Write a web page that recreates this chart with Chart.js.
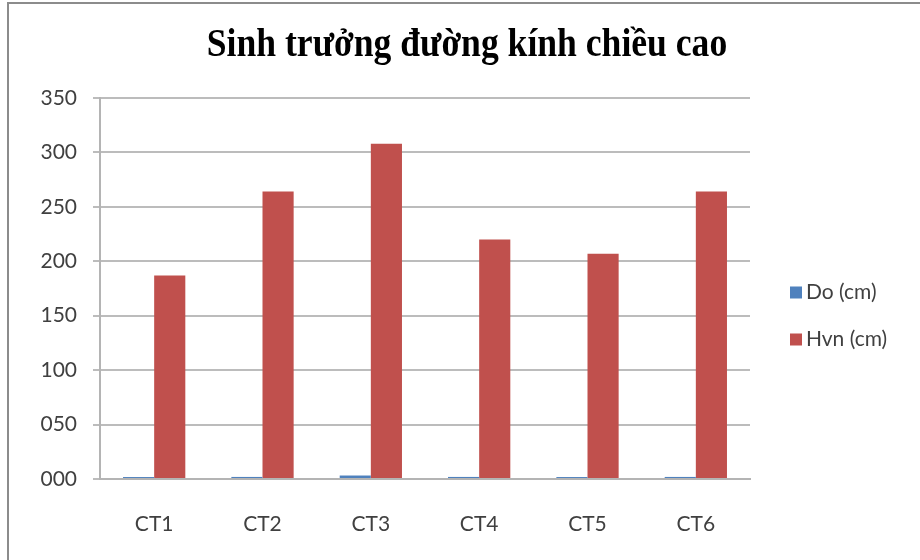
<!DOCTYPE html>
<html>
<head>
<meta charset="utf-8">
<script src="https://cdn.jsdelivr.net/npm/chart.js@4/dist/chart.umd.min.js"></script>
<style>
	html, body { margin:0; padding:0; background:#fff; }
	#wrap { width:920px; height:560px; position:relative; }
</style>
</head>
<body>
<div id="wrap"><canvas id="myChart" width="920" height="560"></canvas></div>
<script>
// 데이터
var categories = ['CT1', 'CT2', 'CT3', 'CT4', 'CT5', 'CT6'];
var doValues = [1.8, 1.9, 3.2, 1.9, 1.8, 1.9];
var hvnValues = [187, 264, 308, 220, 207, 264];
var yTickLabels = ['000', '050', '100', '150', '200', '250', '300', '350'];
var seriesNames = ['Do (cm)', 'Hvn (cm)'];
var chartTitle = 'Sinh trưởng đường kính chiều cao';

var tickFont = { family: 'Lato, "Open Sans", sans-serif', size: 21 };

// 바깥 테두리
var framePlugin = {
	id: 'frame',
	beforeDraw: function(chart){
		var ctx = chart.ctx;
		ctx.save();
		ctx.fillStyle = '#fff';
		ctx.fillRect(0, 0, chart.width, chart.height);
		ctx.strokeStyle = '#8c8c8c';
		ctx.lineWidth = 2;
		ctx.strokeRect(8, 3, chart.width + 20, chart.height + 20);
		ctx.restore();
	}
};

// 제목 (전체 폭 기준 가운데, 좁고 높은 글꼴 느낌)
var titlePlugin = {
	id: 'topTitle',
	afterDraw: function(chart){
		var ctx = chart.ctx;
		ctx.save();
		ctx.translate(467, 46);
		ctx.scale(0.89, 1);
		ctx.font = 'bold 40px "Liberation Serif", "DejaVu Serif", serif';
		ctx.fillStyle = '#000';
		ctx.textAlign = 'center';
		ctx.textBaseline = 'middle';
		ctx.fillText(chartTitle, 0, 0);
		ctx.restore();
	}
};

// 범례 (오른쪽)
var legendPlugin = {
	id: 'sideLegend',
	afterDraw: function(chart){
		var ctx = chart.ctx;
		var area = chart.chartArea;
		var x = area.right + 40;
		var y0 = (area.top + area.bottom) / 2 + 4;
		ctx.save();
		ctx.font = '21px ' + tickFont.family;
		ctx.textBaseline = 'middle';
		chart.data.datasets.forEach(function(ds, i){
			var y = y0 + i * 47;
			ctx.fillStyle = ds.backgroundColor;
			ctx.fillRect(x, y - 6, 12, 12);
			ctx.fillStyle = '#404040';
			ctx.fillText(ds.label, x + 16, y);
		});
		ctx.restore();
	}
};

var ctx = document.getElementById('myChart').getContext('2d');
var myChart = new Chart(ctx, {
	type: 'bar',
	data: {
		labels: categories,
		datasets: [{
			label: seriesNames[0],
			data: doValues,
			backgroundColor: '#4F81BD'
		}, {
			label: seriesNames[1],
			data: hvnValues,
			backgroundColor: '#C0504D'
		}]
	},
	options: {
		responsive: false,
		animation: false,
		devicePixelRatio: 1,
		layout: { padding: { left: 10, right: 170, top: 98, bottom: 23 } },
		datasets: {
			bar: { categoryPercentage: 0.575, barPercentage: 1 }
		},
		plugins: {
			legend: { display: false },
			tooltip: { enabled: false },
			title: { display: false }
		},
		scales: {
			x: {
				afterFit: function(scale){ scale.height = 58; },
				grid: { display: false, drawTicks: false },
				border: { display: true, color: '#b4b4b4', width: 2 },
				ticks: { color: '#404040', font: tickFont, padding: 33 }
			},
			y: {
				min: 0,
				max: 350,
				afterFit: function(scale){ scale.width = 90; },
				grid: { color: '#bcbcbc', lineWidth: 2, tickLength: 7 },
				border: { display: true, color: '#b4b4b4', width: 2 },
				ticks: {
					stepSize: 50,
					color: '#404040',
					font: tickFont,
					padding: 16,
					callback: function(value, index){ return yTickLabels[index]; }
				}
			}
		}
	},
	plugins: [framePlugin, titlePlugin, legendPlugin]
});
</script>
</body>
</html>
